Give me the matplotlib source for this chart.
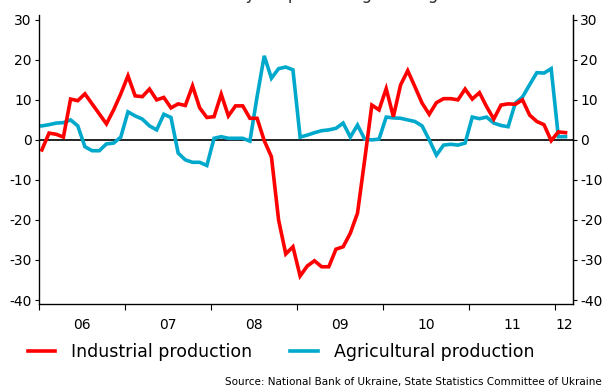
import numpy as np
import matplotlib.pyplot as plt

# year-on-year change, monthly, Jan 2006 - Feb 2012
industrial = [
    -2.5, 1.7, 1.4, 0.7, 10.2, 9.8, 11.5, 9.0, 6.5, 4.0, 7.5, 11.5,
    16.0, 11.0, 10.8, 12.7, 10.0, 10.6, 8.0, 9.0, 8.6, 13.5, 8.0, 5.6,
    5.8, 11.4, 6.0, 8.5, 8.5, 5.4, 5.4, -0.2, -4.2, -20.0, -28.5, -26.7,
    -34.0, -31.5, -30.2, -31.7, -31.7, -27.3, -26.7, -23.3, -18.3, -5.0, 8.7, 7.5,
    12.8, 5.8, 13.7, 17.3, 13.3, 9.2, 6.4, 9.3, 10.3, 10.3, 10.0, 12.7,
    10.2, 11.8, 8.3, 5.2, 8.7, 9.0, 8.9, 10.0, 6.2, 4.6, 3.8, -0.2,
    2.0, 1.8,
]
agricultural = [
    3.5, 3.8, 4.2, 4.3, 5.0, 3.5, -1.7, -2.7, -2.7, -1.0, -0.8, 0.7,
    7.0, 6.0, 5.2, 3.5, 2.5, 6.4, 5.6, -3.3, -5.0, -5.6, -5.6, -6.4,
    0.4, 0.8, 0.4, 0.4, 0.4, -0.3, 10.8, 21.0, 15.4, 17.8, 18.2, 17.5,
    0.7, 1.2, 1.8, 2.3, 2.5, 2.9, 4.2, 0.7, 3.7, 0.2, 0.0, 0.2,
    5.7, 5.5, 5.4, 5.0, 4.6, 3.5, 0.0, -3.8, -1.3, -1.1, -1.3, -0.8,
    5.7, 5.3, 5.7, 4.2, 3.6, 3.3, 9.2, 10.7, 13.8, 16.8, 16.7, 17.8,
    0.8, 0.8,
]
year_labels = ["06", "07", "08", "09", "10", "11", "12"]
y_ticks = [30, 20, 10, 0, -10, -20, -30, -40]

red = "#ff0000"
blue = "#00a9cc"

months = np.arange(len(industrial))
x = 2006 + (months + 0.45) / 12.0

fig = plt.figure(figsize=(6.04, 3.90), dpi=100)
ax = fig.add_axes([0.064, 0.2205, 0.885, 0.741])

ax.axhline(0, color="black", lw=1.2, zorder=1)
ax.plot(x, industrial, color=red, lw=2.6, solid_joinstyle="miter",
        label="Industrial production", zorder=3)
ax.plot(x, agricultural, color=blue, lw=2.6, solid_joinstyle="miter",
        label="Agricultural production", zorder=2)

ax.set_xlim(2006.0, 2012.21)
ax.set_ylim(-41, 31.2)
ax.set_yticks(y_ticks)
ax.set_yticklabels([str(v) for v in y_ticks])

# ticks on year boundaries, labels mid-year (2012 is only partly shown)
ax.set_xticks(np.arange(2006, 2013))
ax.set_xticklabels([])
label_pos = list(np.arange(2006, 2012) + 0.5) + [2012.11]
ax.set_xticks(label_pos, minor=True)
ax.set_xticklabels(year_labels, minor=True)
ax.tick_params(axis="x", which="minor", length=0, pad=10, labelsize=10)
ax.tick_params(axis="x", which="major", length=4, width=0.8)
ax.tick_params(axis="y", length=3, width=0.8, pad=2, labelsize=10)

ax.spines["top"].set_visible(False)
for s in ("left", "bottom", "right"):
    ax.spines[s].set_linewidth(0.9)

rax = ax.twinx()
rax.set_ylim(ax.get_ylim())
rax.set_yticks(y_ticks)
rax.set_yticklabels([str(v) for v in y_ticks])
rax.tick_params(axis="y", length=3, width=0.8, pad=2, labelsize=10)
rax.spines["top"].set_visible(False)
rax.spines["right"].set_linewidth(0.9)

fig.text(0.52, 1.003, "Year-on-year percentage change", ha="center",
         va="baseline", fontsize=12, color="#333333")

fig.legend(loc="lower center", bbox_to_anchor=(0.465, 0.035), ncol=2,
           frameon=False, fontsize=12.5, handlelength=1.6,
           columnspacing=2.2, handletextpad=0.9)

fig.text(0.997, 0.008, "Source: National Bank of Ukraine, State Statistics Committee of Ukraine",
         ha="right", va="bottom", fontsize=7.5)

fig.savefig("out.png", dpi=100)
